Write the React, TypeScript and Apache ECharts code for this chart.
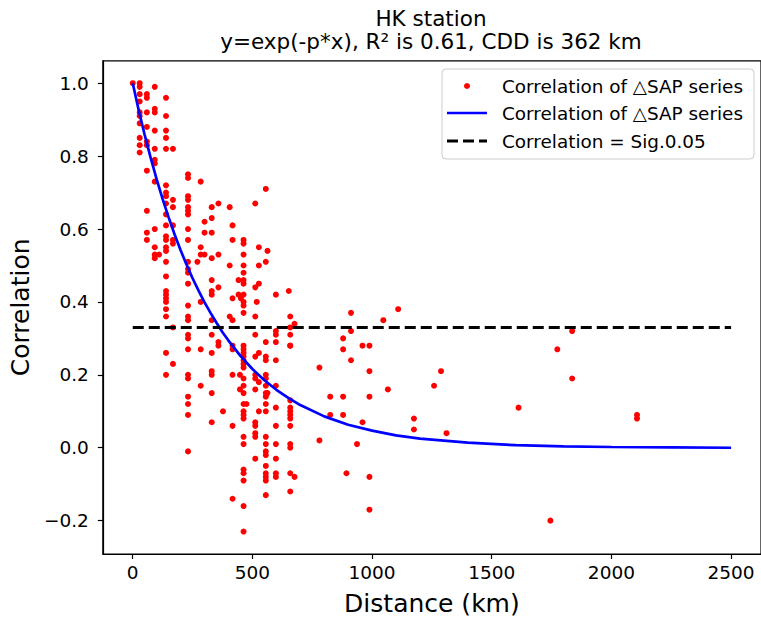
import React, { useEffect, useRef } from "react";
import * as echarts from "echarts";

// Scatter: station-pair distance columns (km) and the correlations read at each distance
const pairDistanceKm: number[] = [
  0, 29, 59, 92, 110, 139, 168, 231, 270, 284, 300, 330, 358, 377, 405, 417, 442, 448, 452, 463, 475,
  512, 518, 527, 556, 563, 598, 652, 658, 676, 780, 825, 879, 893, 912, 937, 960, 989, 1047, 1066,
  1109, 1175, 1259, 1288, 1311, 1612, 1745, 1774, 1836, 2107,
];
const pairCorrelations: number[][] = [
  [1.0],
  [1.0, 0.99, 0.97, 0.95, 0.92, 0.91, 0.89, 0.85, 0.83, 0.81],
  [0.97, 0.96, 0.92, 0.88, 0.84, 0.83, 0.76, 0.65, 0.59, 0.57],
  [0.99, 0.93, 0.92, 0.87, 0.82, 0.79, 0.78, 0.73, 0.6, 0.55, 0.53, 0.52],
  [0.53],
  [0.96, 0.91, 0.87, 0.85, 0.82, 0.72, 0.7, 0.69, 0.67, 0.64, 0.61, 0.58, 0.57, 0.55, 0.54, 0.51, 0.47, 0.43, 0.42, 0.41, 0.4, 0.38, 0.36, 0.26, 0.2],
  [0.82, 0.68, 0.66, 0.61, 0.57, 0.56, 0.33, 0.23],
  [0.75, 0.74, 0.69, 0.68, 0.66, 0.65, 0.64, 0.6, 0.57, 0.51, 0.49, 0.48, 0.45, 0.39, 0.36, 0.35, 0.31, 0.3, 0.27, 0.2, 0.19, 0.14, 0.12, 0.09, -0.01],
  [0.51],
  [0.73, 0.55, 0.53, 0.4, 0.27, 0.17],
  [0.62, 0.59, 0.53],
  [0.66, 0.63, 0.59, 0.52, 0.46, 0.43, 0.42, 0.35, 0.31, 0.26, 0.21, 0.2, 0.15, 0.07],
  [0.67, 0.53, 0.44, 0.29, 0.28],
  [0.1],
  [0.66, 0.5, 0.36],
  [0.61, 0.57, 0.41, 0.35, 0.28, 0.27, 0.2, 0.06, -0.14],
  [0.46, 0.42],
  [0.2, 0.16],
  [0.41],
  [0.57, 0.56, 0.53, 0.5, 0.48, 0.46, 0.45, 0.42, 0.4, 0.39, 0.37, 0.28, 0.27, 0.26, 0.25, 0.24, 0.23, 0.22, 0.19, 0.17, 0.15, 0.12, 0.1, 0.09, 0.08, 0.03, 0.01, -0.06, -0.07, -0.09, -0.16, -0.23],
  [0.12],
  [0.67, 0.44, 0.36, 0.31, 0.25, 0.2, 0.19, 0.16, 0.07, 0.06, 0.04, 0.03, -0.03],
  [0.4],
  [0.55, 0.5, 0.45, 0.26, 0.18, 0.1],
  [0.71, 0.51, 0.29, 0.25, 0.24, 0.2, 0.19, 0.17, 0.15, 0.14, 0.12, 0.1, 0.03, 0.01, -0.01, -0.02, -0.05, -0.07, -0.08, -0.09, -0.13],
  [0.54, 0.15],
  [0.42, 0.32, 0.31, 0.29, 0.24, 0.17, 0.11, 0.06, 0.01, -0.03, -0.07, -0.08],
  [0.43],
  [0.36, 0.33, 0.31, 0.28, 0.28, 0.13, 0.11, 0.1, 0.09, 0.08, 0.06, 0.01, 0.0, -0.07, -0.12],
  [0.34, -0.08],
  [0.22, 0.02],
  [0.14, 0.09],
  [0.3, 0.27, 0.14, 0.09],
  [-0.07],
  [0.37, 0.32, 0.24],
  [0.01],
  [0.28, 0.07],
  [0.28, 0.21, 0.14, -0.08, -0.17],
  [0.35],
  [0.16],
  [0.38],
  [0.08, 0.05],
  [0.17],
  [0.21],
  [0.04],
  [0.11],
  [-0.2],
  [0.27],
  [0.32, 0.19],
  [0.09, 0.08],
];

// Fitted curve
const fitDistanceKm: number[] = [
  0, 25, 50, 75, 100, 125, 150, 175, 200, 225, 250, 275, 300, 325, 350, 375, 400, 450, 500, 550, 600, 650, 700,
  800, 900, 1000, 1100, 1200, 1400, 1600, 1800, 2000, 2250, 2500,
];
const fitCorrelation: number[] = [
  1.0, 0.926, 0.858, 0.795, 0.736, 0.682, 0.632, 0.585, 0.542, 0.502, 0.465, 0.431, 0.399, 0.37, 0.343, 0.317, 0.294, 0.252, 0.216, 0.185, 0.159, 0.137, 0.117,
  0.086, 0.063, 0.047, 0.034, 0.025, 0.014, 0.007, 0.004, 0.002, 0.001, 0.0,
];

// Significance line
const sigDistanceKm: number[] = [0, 2500];
const sigCorrelation: number[] = [0.33, 0.33];

const xTicks: number[] = [0, 500, 1000, 1500, 2000, 2500];
const yTicks: number[] = [-0.2, 0.0, 0.2, 0.4, 0.6, 0.8, 1.0];

const titleLines: string[] = ["HK station", "y=exp(-p*x), R² is 0.61, CDD is 362 km"];
const legendLabels: string[] = ["Correlation of △SAP series", "Correlation of △SAP series", "Correlation = Sig.0.05"];
const xName = "Distance (km)";
const yName = "Correlation";

const FONT = "DejaVu Sans";

export default function App() {
  const ref = useRef<HTMLDivElement>(null);
  useEffect(() => {
    document.body.style.margin = "0";
    if (!ref.current) return;
    const chart = echarts.init(ref.current, null, { renderer: "svg" });

    const scatterData: number[][] = [];
    pairDistanceKm.forEach((d, i) => {
      pairCorrelations[i].forEach((v) => scatterData.push([d, v]));
    });
    const fitData = fitDistanceKm.map((d, i) => [d, fitCorrelation[i]]);
    const sigData = sigDistanceKm.map((d, i) => [d, sigCorrelation[i]]);

    const axisLineStyle = { color: "#000", width: 1.2 };
    const fmtY = (v: number) => (v < -1e-9 ? "\u2212" : "") + Math.abs(v).toFixed(1);

    const lx = 442, ly = 69;
    chart.setOption({
      animation: false,
      backgroundColor: "#fff",
      grid: {
        left: 98,
        top: 60.8,
        width: 665.5,
        height: 496,
        show: true,
        borderColor: "#000",
        borderWidth: 1.2,
        backgroundColor: "transparent",
      },
      xAxis: {
        type: "value",
        min: -125,
        max: 2625,
        name: xName,
        nameLocation: "middle",
        nameGap: 37,
        nameTextStyle: { fontFamily: FONT, fontSize: 25, color: "#000", verticalAlign: "top" },
        axisLine: { show: true, onZero: false, lineStyle: axisLineStyle },
        axisTick: { show: true, length: 5, lineStyle: axisLineStyle, customValues: xTicks },
        axisLabel: {
          customValues: xTicks,
          fontFamily: FONT,
          fontSize: 18.5,
          color: "#000",
          margin: 9,
          formatter: (v: number) => String(Math.round(v)),
        },
        splitLine: { show: false },
      },
      yAxis: {
        type: "value",
        min: -0.2915,
        max: 1.0615,
        name: yName,
        nameLocation: "middle",
        nameGap: 66,
        nameRotate: 90,
        nameTextStyle: { fontFamily: FONT, fontSize: 25, color: "#000" },
        axisLine: { show: true, onZero: false, lineStyle: axisLineStyle },
        axisTick: { show: true, length: 5, lineStyle: axisLineStyle, customValues: yTicks },
        axisLabel: {
          customValues: yTicks,
          fontFamily: FONT,
          fontSize: 18.5,
          color: "#000",
          margin: 14,
          formatter: fmtY,
        },
        splitLine: { show: false },
      },
      series: [
        {
          type: "scatter",
          name: "scatter",
          data: scatterData,
          symbol: "circle",
          symbolSize: 6,
          itemStyle: { color: "#ff0000", opacity: 1 },
          z: 2,
        },
        {
          type: "line",
          name: "fit",
          data: fitData,
          symbol: "none",
          smooth: false,
          lineStyle: { color: "#0000ff", width: 2.7 },
          z: 3,
        },
        {
          type: "line",
          name: "sig",
          data: sigData,
          symbol: "none",
          lineStyle: { color: "#000", width: 3, type: [11, 5] },
          z: 4,
        },
      ],
      graphic: [
        {
          type: "text",
          x: 431,
          y: 18,
          style: { text: titleLines[0], font: `21.5px '${FONT}'`, fill: "#000", align: "center", verticalAlign: "middle" },
        },
        {
          type: "text",
          x: 431,
          y: 41,
          style: { text: titleLines[1], font: `21.5px '${FONT}'`, fill: "#000", align: "center", verticalAlign: "middle" },
        },
        {
          type: "group",
          x: lx,
          y: ly,
          z: 100,
          children: [
            {
              type: "rect",
              shape: { x: 0, y: 0, width: 312, height: 90, r: 4 },
              style: { fill: "rgba(255,255,255,0.8)", stroke: "#cccccc", lineWidth: 1 },
            },
            { type: "circle", shape: { cx: 25, cy: 17, r: 3 }, style: { fill: "#ff0000" } },
            { type: "line", shape: { x1: 5, y1: 44, x2: 45, y2: 44 }, style: { stroke: "#0000ff", lineWidth: 2.7 } },
            { type: "line", shape: { x1: 5, y1: 72, x2: 45, y2: 72 }, style: { stroke: "#000", lineWidth: 3, lineDash: [11, 5] } },
            { type: "text", x: 60, y: 17, style: { text: legendLabels[0], font: `18.4px '${FONT}'`, fill: "#000", verticalAlign: "middle" } },
            { type: "text", x: 60, y: 44, style: { text: legendLabels[1], font: `18.4px '${FONT}'`, fill: "#000", verticalAlign: "middle" } },
            { type: "text", x: 60, y: 72, style: { text: legendLabels[2], font: `18.4px '${FONT}'`, fill: "#000", verticalAlign: "middle" } },
          ],
        },
      ],
    });
    return () => chart.dispose();
  }, []);
  return (
    <div
      ref={ref}
      style={{ position: "fixed", left: 0, top: 0, width: 761, height: 621, background: "#fff" }}
    />
  );
}
